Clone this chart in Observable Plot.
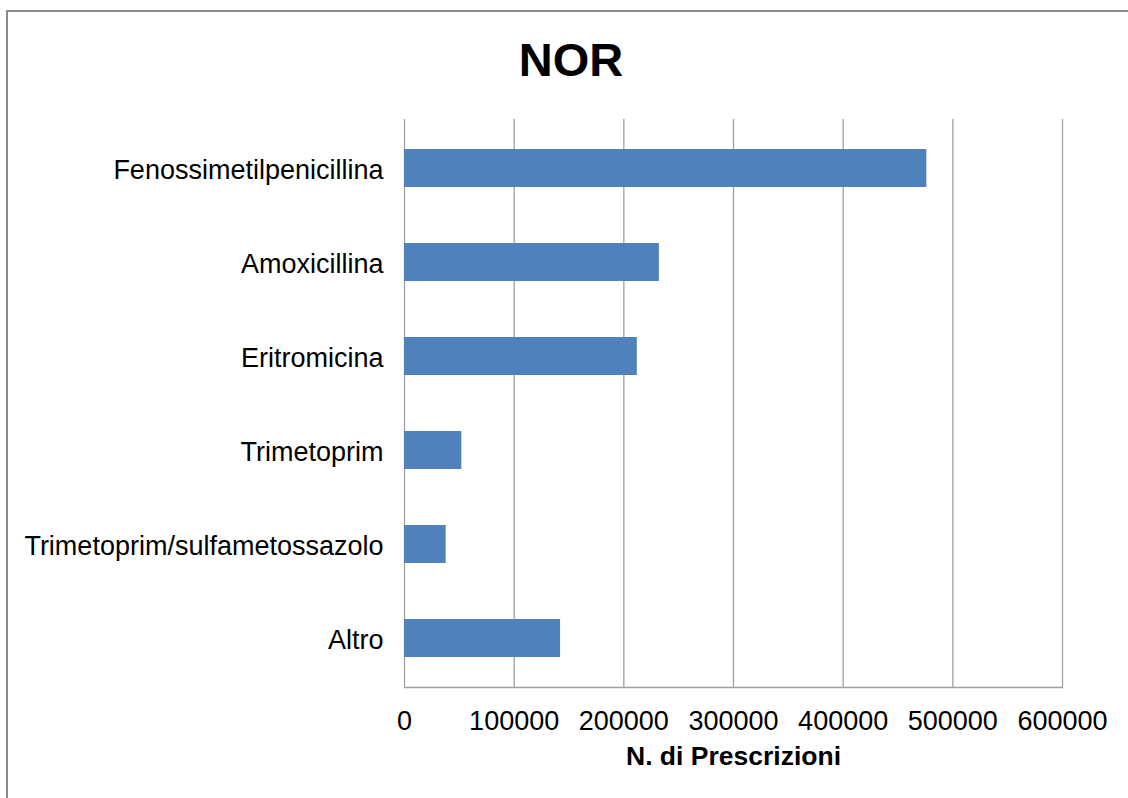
<!DOCTYPE html>
<html>
<head>
<meta charset="utf-8">
<script src="https://cdn.jsdelivr.net/npm/d3@7"></script>
<script src="https://cdn.jsdelivr.net/npm/@observablehq/plot@0.6"></script>
<style>
  body { margin: 0; background: #fff; font-family: "Liberation Sans", Arial, sans-serif; }
  #wrap { position: relative; width: 1128px; height: 798px; overflow: hidden; background: #fff; }
  #border { position: absolute; left: 6px; top: 10px; width: 1200px; height: 900px;
            border-left: 2px solid #8c8c8c; border-top: 2px solid #8c8c8c; }
  #title { position: absolute; left: 14px; top: 37px; width: 1114px; text-align: center;
           font-size: 47px; line-height: 46px; font-weight: bold; color: #000; }
  #chart { position: absolute; left: 0; top: 100px; }
</style>
</head>
<body>
<div id="wrap">
  <div id="border"></div>
  <div id="title">NOR</div>
  <div id="chart"></div>
</div>
<script>
const titleText = "NOR";
const axisTitle = "N. di Prescrizioni";
const drugs = [
  "Fenossimetilpenicillina",
  "Amoxicillina",
  "Eritromicina",
  "Trimetoprim",
  "Trimetoprim/sulfametossazolo",
  "Altro"
];
const prescriptions = [476300, 232400, 212300, 52300, 38000, 142300];
const xTicks = [0, 100000, 200000, 300000, 400000, 500000, 600000];

const data = drugs.map((d, i) => ({ drug: d, n: prescriptions[i] }));

const chart = Plot.plot({
  width: 1128,
  height: 698,
  marginLeft: 404,
  marginRight: 66,
  marginTop: 19,
  marginBottom: 111,
  style: { fontFamily: "'Liberation Sans', Arial, sans-serif", fontSize: "26px", color: "#000", background: "transparent" },
  x: { domain: [0, 600000], label: null },
  y: { domain: drugs, paddingInner: 0.6, paddingOuter: 0.3, label: null },
  marks: [
    Plot.gridX(xTicks, { stroke: "#a0a0a0", strokeOpacity: 1, strokeWidth: 1.3 }),
    Plot.frame({ anchor: "bottom", stroke: "#a0a0a0", strokeWidth: 1.3 }),
    Plot.barX(data, { x: "n", y: "drug", fill: "#4f81bd" }),
    Plot.axisX(xTicks, { tickSize: 0, tickPadding: 23, tickFormat: d => String(d), fontSize: 27, label: null }),
    Plot.axisY({ tickSize: 0, tickPadding: 21, fontSize: 27, dy: 2, label: null }),
    Plot.text([axisTitle], { frameAnchor: "bottom", dy: 77, fontWeight: "bold", fontSize: 26.5, fill: "#000" })
  ]
});
document.getElementById("chart").appendChild(chart);
document.getElementById("title").textContent = titleText;
</script>
</body>
</html>
